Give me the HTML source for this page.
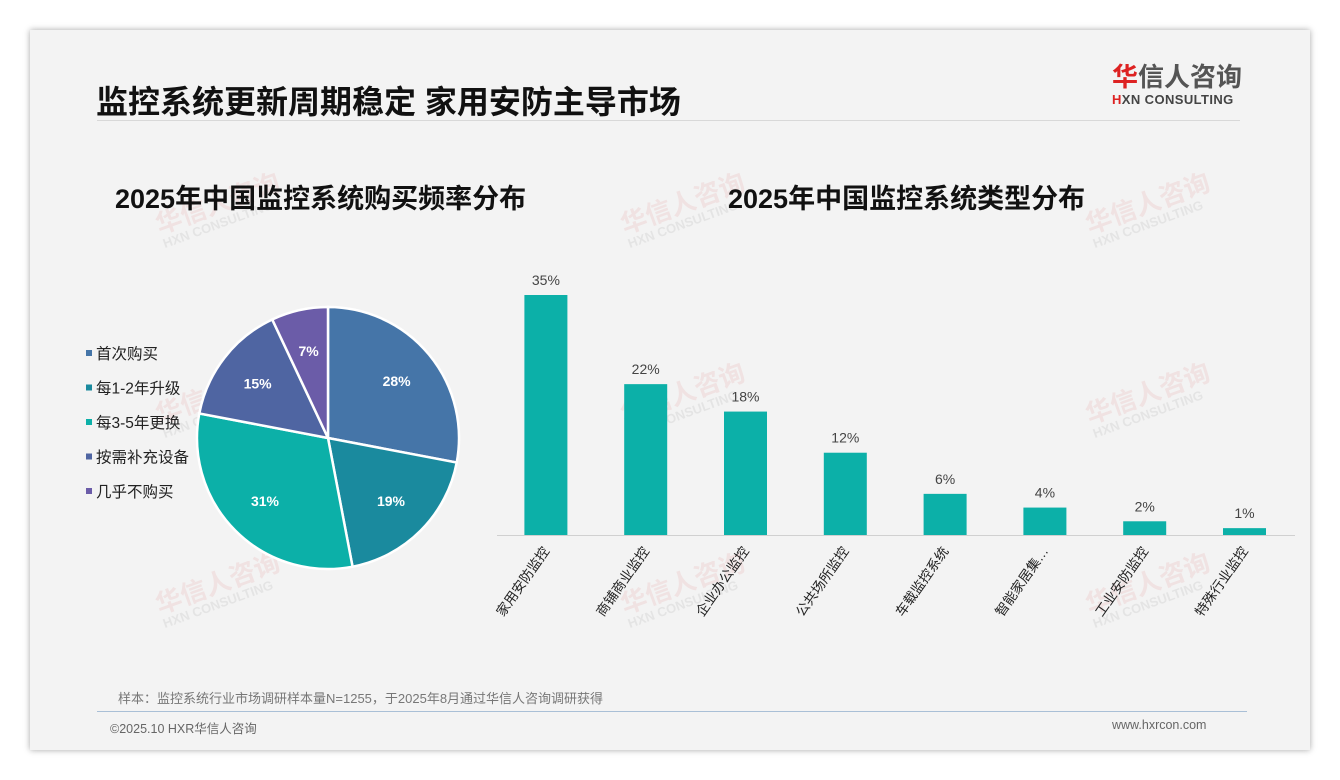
<!DOCTYPE html>
<html><head><meta charset="utf-8"><style>
body{margin:0;width:1340px;height:780px;background:#fff;font-family:"Liberation Sans","Noto Sans CJK SC",sans-serif;position:relative;overflow:hidden}
.card{position:absolute;left:30px;top:30px;width:1280px;height:720px;background:#f3f3f3;box-shadow:0 0 6px rgba(0,0,0,.35)}
.abs{position:absolute}
.wm{position:absolute;color:rgba(220,80,80,.10);font-weight:bold;transform:rotate(-20deg);font-size:26px;line-height:1}
.wm small{display:block;font-size:13px;color:rgba(150,150,150,.15)}
</style></head><body>
<div class="card"></div>
<div class="abs" style="left:96px;top:77px;font-size:32px;font-weight:bold;color:#111">监控系统更新周期稳定 家用安防主导市场</div>
<div class="abs" style="left:97px;top:120px;width:1143px;height:1px;background:#d8d8d8"></div>
<div class="abs" style="left:1112px;top:62px;width:132px">
<div style="font-size:26px;font-weight:bold;color:#555;line-height:30px"><span style="color:#d22">华</span>信人咨询</div>
<div style="font-size:13px;font-weight:bold;color:#444;letter-spacing:.4px"><span style="color:#d22">H</span>XN CONSULTING</div></div>
<div class="wm" style="left:155px;top:190px">华信人咨询<small>HXN CONSULTING</small></div>
<div class="wm" style="left:620px;top:190px">华信人咨询<small>HXN CONSULTING</small></div>
<div class="wm" style="left:1085px;top:190px">华信人咨询<small>HXN CONSULTING</small></div>
<div class="wm" style="left:155px;top:380px">华信人咨询<small>HXN CONSULTING</small></div>
<div class="wm" style="left:620px;top:380px">华信人咨询<small>HXN CONSULTING</small></div>
<div class="wm" style="left:1085px;top:380px">华信人咨询<small>HXN CONSULTING</small></div>
<div class="wm" style="left:155px;top:570px">华信人咨询<small>HXN CONSULTING</small></div>
<div class="wm" style="left:620px;top:570px">华信人咨询<small>HXN CONSULTING</small></div>
<div class="wm" style="left:1085px;top:570px">华信人咨询<small>HXN CONSULTING</small></div>
<div class="abs" style="left:115px;top:177px;font-size:27px;font-weight:bold;color:#111">2025年中国监控系统购买频率分布</div>
<div class="abs" style="left:728px;top:177px;font-size:27px;font-weight:bold;color:#111">2025年中国监控系统类型分布</div>
<svg class="abs" style="left:0;top:0" width="1340" height="780" id="svg"></svg>
<div class="abs" style="left:118px;top:688px;font-size:13px;color:#777">样本：监控系统行业市场调研样本量N=1255，于2025年8月通过华信人咨询调研获得</div>
<div class="abs" style="left:97px;top:711px;width:1150px;height:1px;background:#a9bfd6"></div>
<div class="abs" style="left:110px;top:718px;font-size:12.5px;color:#666">©2025.10 HXR华信人咨询</div>
<div class="abs" style="left:1112px;top:718px;font-size:12.5px;color:#666">www.hxrcon.com</div>
<script>
const pieLabels=["首次购买","每1-2年升级","每3-5年更换","按需补充设备","几乎不购买"];
const pieValues=[28,19,31,15,7];
const pieColors=["#4575a8","#1a8a9e","#0cb0a8","#4f65a2","#6b5ca8"];
const barCats=["家用安防监控","商铺商业监控","企业办公监控","公共场所监控","车载监控系统","智能家居集…","工业安防监控","特殊行业监控"];
const barValues=[35,22,18,12,6,4,2,1];
const NS="http://www.w3.org/2000/svg";
const svg=document.getElementById('svg');
function mk(t,a,txt){const e=document.createElementNS(NS,t);for(const k in a)e.setAttribute(k,a[k]);if(txt!=null)e.textContent=txt;svg.appendChild(e);return e;}
const cx=328,cy=438,r=131;const tot=pieValues.reduce((a,b)=>a+b,0);let ang=0;
pieValues.forEach((v,i)=>{const a0=ang,a1=ang+v/tot*2*Math.PI;ang=a1;
const p=a=>[cx+r*Math.sin(a),cy-r*Math.cos(a)];const [x0,y0]=p(a0),[x1,y1]=p(a1);
const s=mk('path',{d:`M${cx},${cy}L${x0},${y0}A${r},${r} 0 ${a1-a0>Math.PI?1:0} 1 ${x1},${y1}Z`,fill:pieColors[i],stroke:'#fff','stroke-width':2.5});


const m=(a0+a1)/2,lr=r*0.68;
const t=mk('text',{x:cx+lr*Math.sin(m),y:cy-lr*Math.cos(m)+5,'text-anchor':'middle',fill:'#fff','font-size':14,'font-weight':'bold'},v+'%');


const ly=354+i*34.5;
const sq=mk('rect',{x:86,y:ly-4,width:6,height:6,fill:pieColors[i]});


const lt=mk('text',{x:96,y:ly+5,'font-size':15.5,fill:'#222'},pieLabels[i]);


});
const base=535,scale=240/35,x0=496,step=99.8;
const ax=mk('line',{x1:497,x2:1295,y1:base+0.5,y2:base+0.5,stroke:'#d0d0d0','stroke-width':1});


barValues.forEach((v,i)=>{const c=x0+step*(i+0.5),h=v*scale;
const b=mk('rect',{x:c-21.5,y:base-h,width:43,height:h,fill:'#0cb0a8'});


const t=mk('text',{x:c,y:base-h-10,'text-anchor':'middle','font-size':14,fill:'#444'},v+'%');


const l=mk('text',{x:c+4,y:base+16,'text-anchor':'end','font-size':13.5,fill:'#222',transform:`rotate(-55 ${c+4} ${base+16})`},barCats[i]);


});
</script>
</body></html>
